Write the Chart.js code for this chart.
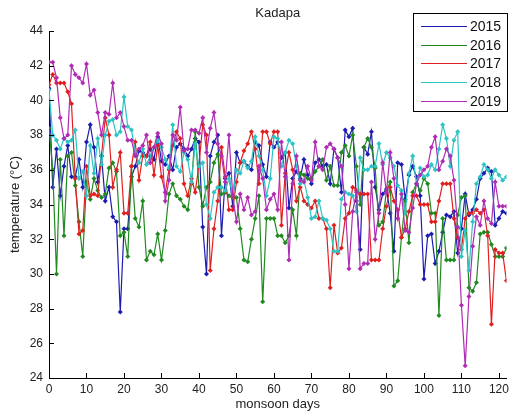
<!DOCTYPE html>
<html>
<head>
<meta charset="utf-8">
<title>Kadapa</title>
<script src="https://cdn.jsdelivr.net/npm/chart.js@4.4.0/dist/chart.umd.min.js"></script>
<style>
  html, body { margin: 0; padding: 0; background: #fff; }
  canvas { display: block; }
</style>
</head>
<body>
<canvas id="tempChart" width="513" height="415"></canvas>
<script>
// monsoon days 0..122
const days = Array.from({length: 123}, (_, i) => i);
const xTicks = [0, 10, 20, 30, 40, 50, 60, 70, 80, 90, 100, 110, 120];
const yTicks = [24, 26, 28, 30, 32, 34, 36, 38, 40, 42, 44];
const years = ['2015', '2016', '2017', '2018', '2019'];

// temperature (°C), one value per day
const t2015 = [40.7,35.0,37.2,34.5,36.2,37.4,35.6,35.6,36.6,35.0,37.6,38.6,37.3,35.3,36.8,34.2,35.0,33.3,33.0,27.8,
  32.6,32.6,35.6,36.2,37.1,37.0,36.8,37.2,36.6,37.9,36.5,36.3,36.8,36.0,37.3,37.5,37.2,36.8,37.2,37.8,
  37.6,32.7,30.0,36.8,37.6,38.0,32.2,35.5,35.8,33.9,37.0,36.4,36.5,36.2,36.0,37.6,37.4,36.3,35.6,37.6,
  37.3,37.6,36.7,37.0,33.8,35.5,35.9,35.5,36.6,35.7,35.2,36.4,36.6,36.2,36.3,35.2,37.2,36.7,34.7,38.3,
  37.9,38.4,34.2,31.4,37.3,36.9,38.2,35.0,33.7,34.6,34.9,33.5,31.3,36.4,36.3,34.3,35.7,36.2,35.6,34.5,
  29.7,32.2,32.3,30.6,31.3,32.4,33.4,33.3,33.6,31.2,32.6,34.6,33.4,33.7,34.3,35.5,35.8,36.1,35.9,32.8,
  33.2,33.6,33.5];
const t2016 = [38.4,36.0,30.0,36.6,32.2,36.8,37.0,35.1,33.0,31.0,35.3,34.3,35.5,34.8,34.4,34.6,36.1,36.4,35.9,32.2,
  32.4,31.0,36.2,33.2,32.7,34.2,30.8,31.3,31.1,32.3,30.8,32.5,34.6,35.2,34.5,34.3,33.9,33.7,35.2,38.2,
  35.0,33.9,35.0,35.3,36.4,36.9,34.6,34.7,34.5,34.4,34.4,32.6,30.8,30.7,32.0,33.2,34.5,28.4,33.2,33.2,
  33.2,32.2,32.2,31.8,32.2,33.7,32.2,35.8,35.7,35.5,35.5,35.9,36.2,36.6,35.4,36.2,35.1,35.1,37.0,37.4,
  36.8,38.0,36.2,34.0,37.3,37.8,37.3,36.1,32.8,33.0,34.8,35.3,29.3,29.6,32.1,34.2,31.8,34.7,35.2,34.8,
  35.5,35.2,33.5,33.5,27.6,33.2,30.8,30.8,30.8,33.4,34.4,34.5,29.2,29.0,29.5,32.3,32.4,32.4,31.7,31.0,
  31.0,31.0,31.5];
const t2017 = [40.9,41.5,41.0,41.0,41.0,40.5,39.8,35.5,32.3,32.5,36.2,34.5,34.6,34.5,36.8,39.0,38.0,35.0,36.0,37.0,
  33.5,33.5,36.2,37.6,35.4,36.8,36.8,37.6,35.7,37.4,35.6,34.7,36.0,37.4,38.2,37.8,35.2,34.5,35.5,34.7,
  36.3,38.6,38.0,30.2,32.6,34.2,37.3,35.6,33.7,33.7,35.3,36.4,37.1,37.5,38.2,37.2,35.2,38.2,38.2,37.5,
  38.2,38.2,32.8,35.8,37.0,36.0,34.2,35.0,34.2,34.0,33.8,34.2,33.2,33.2,32.6,29.2,32.8,31.2,31.5,33.2,
  33.5,35.0,34.8,34.6,34.6,34.6,30.8,30.8,30.8,32.6,33.9,35.0,34.2,33.7,32.1,32.6,33.6,34.5,34.5,34.0,
  34.0,34.0,33.0,33.0,34.2,35.2,35.2,35.2,33.2,32.1,31.4,33.2,33.5,33.5,33.7,33.5,33.7,32.2,27.1,31.4,
  31.2,31.2,29.6];
const t2018 = [40.6,38.0,37.7,37.2,37.8,37.6,37.7,38.3,35.5,35.9,34.5,37.4,35.8,37.8,36.3,38.0,38.8,38.9,38.0,38.2,
  40.2,38.5,38.3,37.0,36.4,37.2,36.3,36.8,37.3,37.7,37.3,36.6,36.1,38.6,36.2,35.9,37.0,36.6,35.3,37.5,
  36.2,36.4,34.0,33.2,34.7,35.0,35.0,34.8,35.5,34.5,36.0,35.8,36.5,36.1,36.5,37.9,36.8,36.0,34.5,35.5,
  37.9,37.8,36.2,37.0,37.7,37.5,36.2,35.2,35.4,34.4,33.2,33.3,34.2,33.2,33.1,32.6,31.3,31.3,34.3,34.7,
  34.6,34.5,33.6,36.7,36.0,36.0,36.2,36.2,37.5,36.3,37.0,36.7,36.2,35.1,34.8,33.5,35.8,36.8,35.2,36.1,
  35.6,35.7,36.3,36.0,37.2,38.6,37.8,36.2,37.7,38.2,31.0,32.5,30.2,33.0,35.2,35.6,36.3,36.0,35.5,36.0,
  35.7,35.4,35.6];
const t2019 = [42.2,42.2,41.3,39.0,37.8,38.0,42.0,41.5,41.3,41.0,42.1,40.3,40.6,39.3,38.0,39.3,39.2,41.0,39.0,39.3,
  38.5,37.7,37.7,36.8,37.2,37.4,38.0,36.4,37.3,38.1,37.5,34.2,35.4,38.0,37.7,39.6,37.1,37.2,38.3,38.3,
  38.1,39.0,37.0,38.4,39.3,37.5,36.8,35.3,38.0,34.5,33.0,34.6,33.7,34.4,33.4,33.6,36.2,35.5,33.7,34.3,
  34.6,33.7,37.6,35.6,30.8,35.2,36.8,35.4,35.3,36.2,35.4,37.6,36.2,36.0,37.3,37.5,37.2,36.7,36.2,34.0,
  30.3,33.6,34.7,30.3,30.6,30.6,35.3,32.0,33.5,36.4,34.7,37.0,35.5,33.2,34.6,32.5,32.4,33.8,35.2,35.7,
  36.0,36.2,37.3,37.9,36.0,36.5,37.2,36.8,35.4,32.7,28.2,24.7,28.7,31.6,33.3,32.8,34.2,33.2,32.9,35.3,
  33.9,33.9,33.9];

const series = [t2015, t2016, t2017, t2018, t2019];
const colors = ['#1c1cb0', '#208a20', '#e02020', '#2cc4c4', '#b02cb4'];

const font = '"Liberation Sans", Arial, sans-serif';

// title, axis titles, inward ticks and the legend box
const decorations = {
  id: 'decorations',
  afterDraw(chart) {
    const ctx = chart.ctx;
    const area = chart.chartArea;
    const xs = chart.scales.x, ys = chart.scales.y;
    ctx.save();
    ctx.strokeStyle = '#000';
    ctx.lineWidth = 1;
    ctx.beginPath();
    xTicks.forEach(v => {
      const px = Math.round(xs.getPixelForValue(v)) + 0.5;
      ctx.moveTo(px, area.bottom);
      ctx.lineTo(px, area.bottom - 5);
    });
    yTicks.forEach(v => {
      const py = Math.round(ys.getPixelForValue(v)) + 0.5;
      ctx.moveTo(area.left, py);
      ctx.lineTo(area.left + 5, py);
    });
    ctx.stroke();

    ctx.fillStyle = '#222';
    ctx.textAlign = 'center';
    ctx.textBaseline = 'middle';
    ctx.font = '13px ' + font;
    ctx.fillText('Kadapa', (area.left + area.right) / 2, 13);
    ctx.fillText('monsoon days', (area.left + area.right) / 2, 404);
    ctx.save();
    ctx.translate(15, (area.top + area.bottom) / 2);
    ctx.rotate(-Math.PI / 2);
    ctx.fillText('temperature (°C)', 0, 0);
    ctx.restore();

    // legend
    const bx = 413, by = 13, bw = 94, bh = 98;
    ctx.fillStyle = '#fff';
    ctx.fillRect(bx, by, bw, bh);
    ctx.strokeStyle = '#000';
    ctx.strokeRect(bx + 0.5, by + 0.5, bw, bh);
    ctx.font = '14px ' + font;
    ctx.textAlign = 'left';
    years.forEach((y, i) => {
      const ly = Math.round(26 + i * 18.7) + 0.5;
      ctx.strokeStyle = colors[i];
      ctx.beginPath();
      ctx.moveTo(421, ly);
      ctx.lineTo(467, ly);
      ctx.stroke();
      ctx.fillStyle = '#111';
      ctx.fillText(y, 470, ly + 1);
    });
    ctx.restore();
  }
};

const datasets = series.map((vals, i) => ({
  label: years[i],
  data: days.map((d, j) => ({x: d, y: vals[j]})),
  borderColor: colors[i],
  backgroundColor: colors[i],
  borderWidth: 1.2,
  pointStyle: 'rectRot',
  pointRadius: 2.5,
  pointBorderWidth: 0,
  tension: 0,
  order: series.length - i
}));

new Chart(document.getElementById('tempChart'), {
  type: 'line',
  data: { datasets },
  options: {
    responsive: false,
    animation: false,
    devicePixelRatio: 1,
    layout: { padding: { top: 31, right: 4, left: 0, bottom: 0 } },
    plugins: {
      legend: { display: false },
      title: { display: false },
      tooltip: { enabled: false }
    },
    scales: {
      x: {
        type: 'linear',
        min: 0, max: 122,
        afterBuildTicks: s => { s.ticks = xTicks.map(v => ({value: v})); },
        afterFit: s => { s.height = 37; },
        grid: { display: false, drawTicks: false },
        border: { display: true, color: '#000', width: 1 },
        ticks: { color: '#222', font: { family: font, size: 12 }, padding: 4, maxRotation: 0 }
      },
      y: {
        min: 24, max: 44,
        afterBuildTicks: s => { s.ticks = yTicks.map(v => ({value: v})); },
        afterFit: s => { s.width = 49; },
        grid: { display: false, drawTicks: false },
        border: { display: true, color: '#000', width: 1 },
        ticks: { color: '#222', font: { family: font, size: 12 }, padding: 6 }
      }
    }
  },
  plugins: [decorations]
});
</script>
</body>
</html>
